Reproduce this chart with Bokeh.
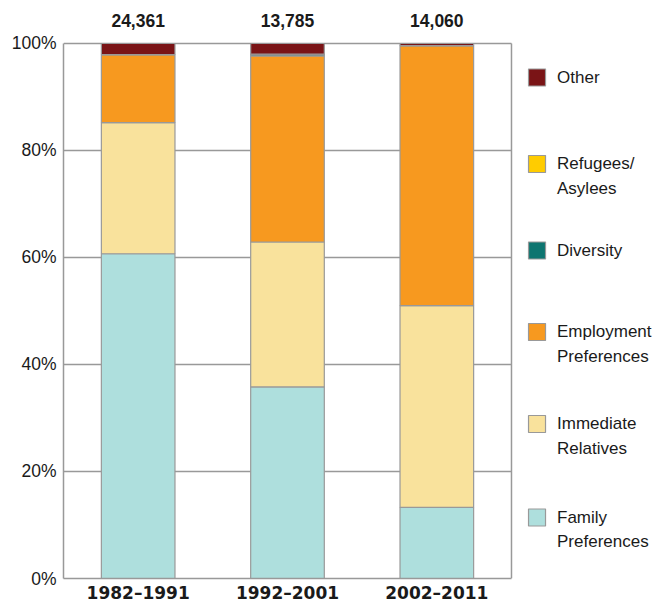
from bokeh.plotting import figure
from bokeh.models import FixedTicker, PrintfTickFormatter, ColumnDataSource, Range1d
from bokeh.core.properties import value
from bokeh.embed import file_html
from bokeh.resources import INLINE

# ---- data ----
periods = ["1982–1991", "1992–2001", "2002–2011"]
totals = ["24,361", "13,785", "14,060"]
family = [60.7, 35.8, 13.3]
immediate = [24.5, 27.1, 37.7]
employment = [12.7, 34.8, 48.6]
diversity = [0.0, 0.3, 0.0]
refugees = [0.0, 0.0, 0.0]
other = [2.1, 2.0, 0.4]
series = ["family", "immediate", "employment", "diversity", "refugees", "other"]
labels = ["Family\nPreferences", "Immediate\nRelatives", "Employment\nPreferences",
          "Diversity", "Refugees/\nAsylees", "Other"]
colors = ["#aedfdd", "#f9e29c", "#f7991f", "#0d7570", "#ffcc00", "#7a1416"]
y_ticks = [0, 20, 40, 60, 80, 100]

GRAY = "#999999"
TXT = "#1a1a1a"
PX = 5.35        # pixels per percentage unit
BASE_PX = 578    # pixel row of 0%
# legend row positions (pixels from top), same order as series
legend_rows_px = [517, 423.5, 331.5, 250, 163.5, 77]
LINE_PX = 24.5

xs = [i + 0.5 for i in range(len(periods))]
src = ColumnDataSource(dict(x=xs, family=family, immediate=immediate, employment=employment,
                            diversity=diversity, refugees=refugees, other=other))

p = figure(output_backend="svg", toolbar_location=None,
           frame_width=590, frame_height=570,
           x_range=Range1d(0, 3.951), y_range=Range1d(0, 106.54),
           min_border_left=63, min_border_right=0, min_border_top=8, min_border_bottom=8)
p.outline_line_color = None
p.grid.visible = False

# grid lines and right border
n = len(periods)
gy = y_ticks[1:]
p.segment(x0=[0] * len(gy), x1=[n] * len(gy), y0=gy, y1=gy, line_color=GRAY, line_width=1.5)
p.segment(x0=[n], x1=[n], y0=[0], y1=[y_ticks[-1]], line_color=GRAY, line_width=1.5)

# stacked bars
p.vbar_stack(series, x="x", width=0.493, source=src, fill_color=colors,
             line_color=GRAY, line_width=1.2)

# totals above bars
p.text(x=xs, y=[104.3] * n, text=totals, text_align="center", text_baseline="middle",
       text_font=value("Liberation Sans"), text_font_style="bold", text_font_size="17.5px",
       text_color=TXT)

# legend (drawn manually)
k = len(series)
cy = [(BASE_PX - r) / PX for r in legend_rows_px]
p.rect(x=[3.171] * k, y=cy, width=17, height=17, width_units="screen", height_units="screen",
       fill_color=colors, line_color=GRAY, line_width=1.2)
lx, ly, lt = [], [], []
for c, lab in zip(cy, labels):
    for j, line in enumerate(lab.split("\n")):
        lx.append(3.305)
        ly.append(c - j * LINE_PX / PX)
        lt.append(line)
p.text(x=lx, y=ly, text=lt, text_align="left", text_baseline="middle",
       text_font=value("Liberation Sans"), text_font_size="17px", text_color=TXT)

# axes
p.xaxis.ticker = FixedTicker(ticks=xs)
p.xaxis.major_label_overrides = {x: lab for x, lab in zip(xs, periods)}
p.xaxis.bounds = (0, n)
p.xaxis.major_label_text_font = "DejaVu Sans"
p.xaxis.major_label_text_font_style = "bold"
p.xaxis.major_label_text_font_size = "17px"
p.xaxis.major_label_text_color = TXT
p.xaxis.major_label_standoff = 4

p.yaxis.ticker = FixedTicker(ticks=y_ticks)
p.yaxis.formatter = PrintfTickFormatter(format="%d%%")
p.yaxis.bounds = (0, 100)
p.yaxis.major_label_text_font = "Liberation Sans"
p.yaxis.major_label_text_font_size = "17.5px"
p.yaxis.major_label_text_color = TXT
p.yaxis.major_label_standoff = 7

for ax in (p.xaxis, p.yaxis):
    ax.axis_line_color = GRAY
    ax.axis_line_width = 1.5
    ax.major_tick_in = 0
    ax.major_tick_out = 0
    ax.minor_tick_in = 0
    ax.minor_tick_out = 0

open("out.html", "w").write(file_html(p, INLINE))
